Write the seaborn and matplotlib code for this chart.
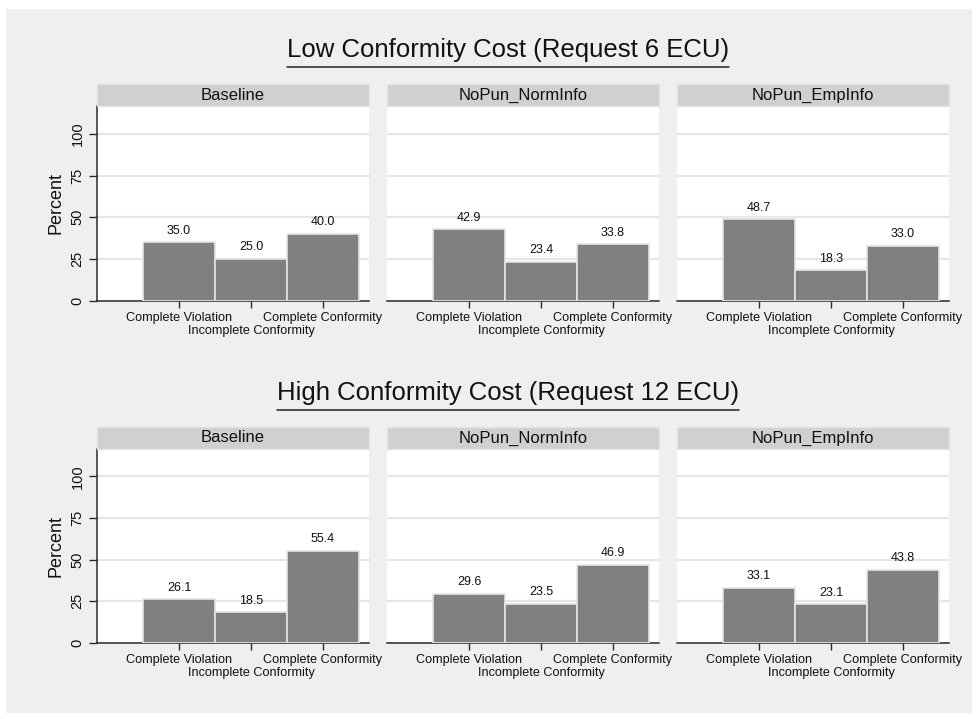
import matplotlib
matplotlib.use("Agg")
import matplotlib.pyplot as plt
from matplotlib.patches import Rectangle
from matplotlib.lines import Line2D
import seaborn as sns
import pandas as pd

# Treatment conditions (panel columns) and outcome categories (bars)
conditions = ["Baseline", "NoPun_NormInfo", "NoPun_EmpInfo"]
categories = ["Complete Violation", "Incomplete Conformity", "Complete Conformity"]

# Percent of participants in each category, low conformity cost (6 ECU)
low_baseline = [35.0, 25.0, 40.0]
low_norminfo = [42.9, 23.4, 33.8]
low_empinfo = [48.7, 18.3, 33.0]

# Percent of participants in each category, high conformity cost (12 ECU)
high_baseline = [26.1, 18.5, 55.4]
high_norminfo = [29.6, 23.5, 46.9]
high_empinfo = [33.1, 23.1, 43.8]

row_titles = ["Low Conformity Cost (Request 6 ECU)",
              "High Conformity Cost (Request 12 ECU)"]
y_ticks = [0, 25, 50, 75, 100]

rows = [
    [low_baseline, low_norminfo, low_empinfo],
    [high_baseline, high_norminfo, high_empinfo],
]

sns.set_theme(style="white")
plt.rcParams["font.family"] = ["Liberation Sans", "DejaVu Sans"]

W, H = 980, 719
fig = plt.figure(figsize=(W / 100, H / 100), dpi=100)
fig.patch.set_facecolor("white")
# light grey graph region behind all panels
fig.patches.append(Rectangle((6 / W, 1 - 713 / H), 966 / W, 704 / H,
                             transform=fig.transFigure, facecolor="#efefef",
                             edgecolor="none", zorder=-10))

col_left = [97, 387, 677]
col_width = 272
row_zero = [300.7, 643.0]
row_top = [106.0, 449.0]
strip_h = 22
title_y = [50, 393]

bar_color = "#808080"
grid_color = "#e6e6e6"
spine_color = "#2b2b2b"
text_color = "#111111"
tick_fs = 9.1

for r, row_vals in enumerate(rows):
    for c, vals in enumerate(row_vals):
        left = col_left[c] / W
        bottom = 1 - row_zero[r] / H
        height = (row_zero[r] - row_top[r]) / H
        ax = fig.add_axes([left, bottom, col_width / W, height])
        ax.set_facecolor("white")

        df = pd.DataFrame({"category": categories, "percent": vals})
        sns.barplot(data=df, x="category", y="percent", order=categories,
                    color=bar_color, width=1.0, saturation=1,
                    edgecolor="#e4e4e4", linewidth=1.2, ax=ax, zorder=3)
        ax.bar_label(ax.containers[0], fmt="%.1f", padding=4, fontsize=9,
                     color=text_color)

        ymax = (row_zero[r] - row_top[r]) / 1.668
        ax.set_ylim(0, ymax)
        ax.set_xlim(-1.14, 2.64)

        ax.set_yticks(y_ticks)
        ax.yaxis.grid(True, color=grid_color, linewidth=1.6, zorder=0)
        ax.xaxis.grid(False)
        ax.set_axisbelow(True)

        # outer categories on the first label row, middle one on a second row
        ax.set_xticks([0, 1, 2])
        ax.set_xticklabels([categories[0], "", categories[2]],
                           fontsize=tick_fs, color=text_color)
        ax.annotate(categories[1], xy=(1, 0),
                    xycoords=ax.get_xaxis_transform(),
                    xytext=(0, -21.8), textcoords="offset points",
                    ha="center", va="center", fontsize=tick_fs,
                    color=text_color, annotation_clip=False)
        ax.tick_params(axis="x", length=5, width=1, color=spine_color,
                       direction="out", pad=3, bottom=True)
        ax.set_xlabel("")

        for side in ["top", "right"]:
            ax.spines[side].set_visible(False)
        ax.spines["bottom"].set_color(spine_color)
        ax.spines["bottom"].set_linewidth(1.1)

        if c == 0:
            ax.spines["left"].set_color(spine_color)
            ax.spines["left"].set_linewidth(1.1)
            ax.tick_params(axis="y", length=6, width=1, color=spine_color,
                           direction="out", pad=3, left=True, labelsize=10.5,
                           labelcolor=text_color)
            for lab in ax.get_yticklabels():
                lab.set_rotation(90)
                lab.set_va("center")
            ax.set_ylabel("Percent", fontsize=13, color=text_color, labelpad=4)
        else:
            ax.spines["left"].set_visible(False)
            ax.tick_params(axis="y", left=False, labelleft=False)
            ax.set_ylabel("")

        # facet strip above the panel
        strip_frac = strip_h / (row_zero[r] - row_top[r])
        ax.add_patch(Rectangle((0, 1), 1, strip_frac, transform=ax.transAxes,
                               facecolor="#d0d0d0", edgecolor="#e0e4e8",
                               linewidth=1, clip_on=False, zorder=5))
        ax.text(0.5, 1 + strip_frac / 2, conditions[c], transform=ax.transAxes,
                ha="center", va="center", fontsize=12, color=text_color,
                zorder=6)

# row titles with underline
fig.canvas.draw()
renderer = fig.canvas.get_renderer()
for r in range(2):
    t = fig.text(508 / W, 1 - title_y[r] / H, row_titles[r], ha="center",
                 va="center", fontsize=18.5, color=text_color)
    bb = t.get_window_extent(renderer=renderer)
    y_line = 1 - (title_y[r] + 16.5) / H
    fig.add_artist(Line2D([bb.x0 / W, bb.x1 / W], [y_line, y_line],
                          transform=fig.transFigure, color="#222222",
                          linewidth=1.1))

fig.savefig("out.png", dpi=100, facecolor=fig.get_facecolor())
